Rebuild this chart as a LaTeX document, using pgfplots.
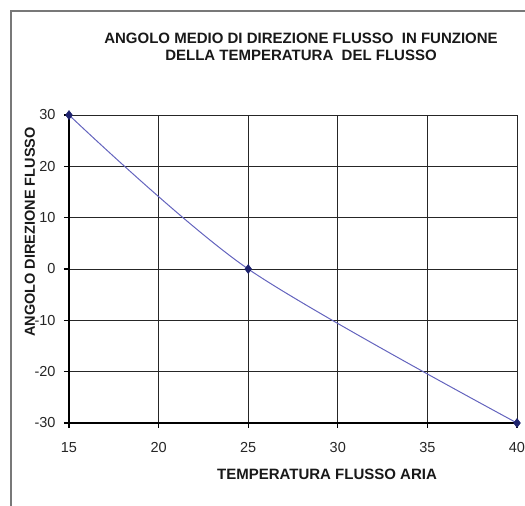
\documentclass[border=0pt]{standalone}
\usepackage{fontspec}
\setmainfont{Liberation Sans}
\usepackage{pgfplots}
\pgfplotsset{compat=1.18}

\definecolor{linecol}{RGB}{100,100,190}
\definecolor{markcol}{RGB}{30,35,110}
\definecolor{framecol}{RGB}{120,120,120}

\begin{document}
\begin{tikzpicture}[x=1pt,y=1pt]
% page size: 525 x 506 (1px = 1pt), axis origin at pixel (69,423)
\useasboundingbox (-69,-83) rectangle (456,423);
\draw[framecol, line width=1.4pt] (-58,-90) -- (-58,412) -- (470,412);

\begin{axis}[
    at={(0,0)}, anchor=south west,
    scale only axis,
    width=448pt, height=308pt,
    xmin=15, xmax=40,
    ymin=-30, ymax=30,
    xtick={15,20,...,40},
    ytick={-30,-20,...,30},
    axis lines=left,
    axis line style={-, line width=1.8pt, black},
    grid=major,
    major grid style={black!85, line width=1pt},
    tick align=outside,
    major tick length=5pt,
    tick style={black, line width=1.2pt},
    /pgf/number format/assume math mode=true,
    tick label style={font=\fontsize{14.5}{16}\selectfont, text=black!85},
    xticklabel style={yshift=-11pt},
    yticklabel style={xshift=-5pt},
    clip=false,
]
\addplot[linecol, line width=1pt, smooth, tension=0.5,
    mark=diamond*, mark size=4.5pt,
    mark options={fill=markcol, draw=markcol, line width=0.5pt}]
    coordinates {(15,30) (25,0) (40,-30)};
\end{axis}

\node[font=\bfseries\fontsize{15}{17}\selectfont, align=center, text=black!90]
    at (232,376) {ANGOLO MEDIO DI DIREZIONE FLUSSO\ \ IN FUNZIONE\\DELLA TEMPERATURA\ \ DEL FLUSSO};
\node[font=\bfseries\fontsize{14.5}{16}\selectfont, rotate=90, text=black!90]
    at (-39,191) {ANGOLO DIREZIONE FLUSSO};
\node[font=\bfseries\fontsize{15}{17}\selectfont, text=black!90]
    at (258,-51) {TEMPERATURA FLUSSO ARIA};
\end{tikzpicture}
\end{document}
